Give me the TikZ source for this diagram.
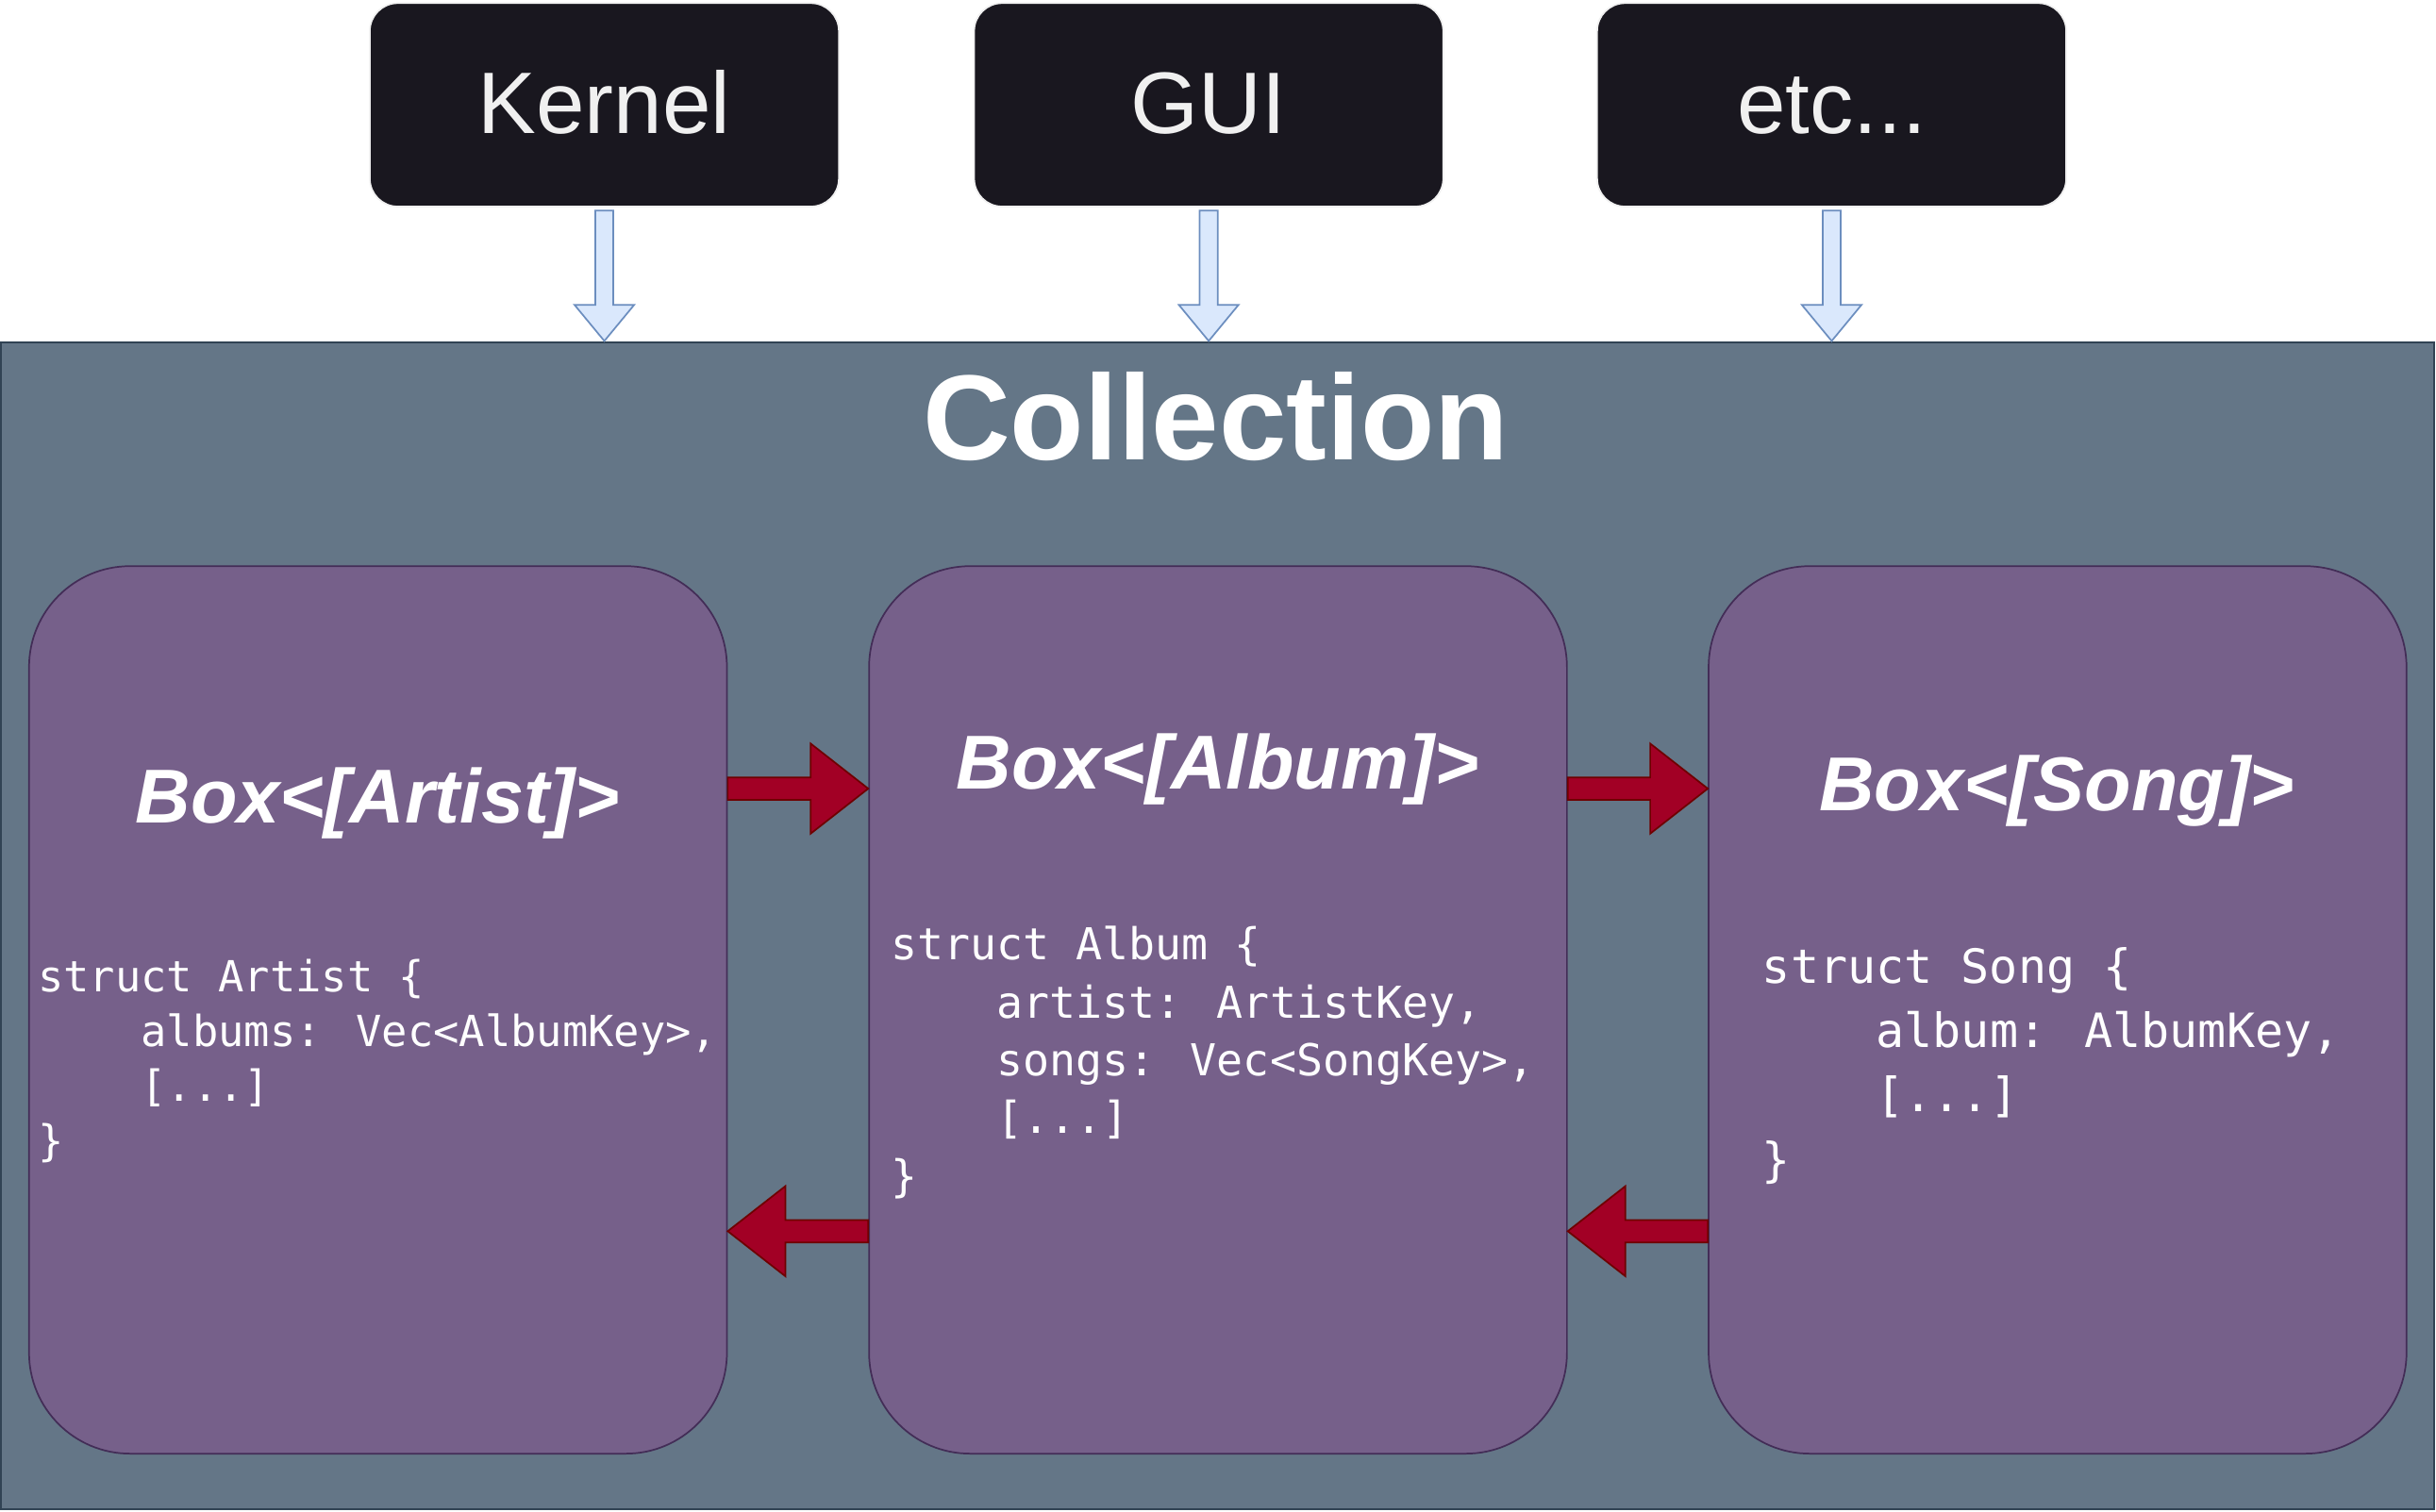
\documentclass[tikz,border=0pt]{standalone}
\usepackage{fontspec}
\setmainfont{Liberation Sans}
\newfontfamily\codefont{DejaVu Sans Mono}
\usetikzlibrary{calc}

\definecolor{topfill}{HTML}{19171F}
\definecolor{topline}{HTML}{F0F0F0}
\definecolor{collfill}{HTML}{647687}
\definecolor{collline}{HTML}{314354}
\definecolor{boxfill}{HTML}{76608A}
\definecolor{boxline}{HTML}{432D57}
\definecolor{redfill}{HTML}{A20025}
\definecolor{redline}{HTML}{6F0000}
\definecolor{bluefill}{HTML}{DAE8FC}
\definecolor{blueline}{HTML}{6C8EBF}

\newcommand{\codeindent}{\phantom{xxxx}}

\tikzset{
    blockarrow/.style n args={3}{
        to path={let \p1=(\tikztostart), \p2=(\tikztotarget),
            \n1={atan2(\y2-\y1,\x2-\x1)}, \n2={veclen(\x2-\x1,\y2-\y1)} in
            {[shift={(\p1)}, rotate=\n1]
            (0pt,#1) -- (\n2-#3,#1) -- (\n2-#3,#2) -- (\n2,0pt)
            -- (\n2-#3,-#2) -- (\n2-#3,-#1) -- (0pt,-#1) -- cycle}}},
    topbox/.style={draw=topline, line width=0.6pt, fill=topfill, text=topline,
        rounded corners=0.36cm, minimum width=6.04cm, minimum height=2.62cm,
        text height=22pt, text depth=1pt, font=\fontsize{32}{38}\selectfont},
    collbox/.style={draw=collline, line width=0.9pt, fill=collfill,
        minimum width=31.34cm, minimum height=15.03cm},
    colltitle/.style={anchor=base, text=white, inner sep=0,
        font=\bfseries\fontsize{44.4}{53}\selectfont},
    structbox/.style={draw=boxline, line width=0.6pt, fill=boxfill,
        rounded corners=1.3cm, minimum width=8.986cm, minimum height=11.43cm},
    boxtitle/.style={anchor=base, text=white, inner sep=0,
        font=\bfseries\itshape\fontsize{28}{33}\selectfont},
    code/.style={anchor=base west, text=white, inner sep=0, align=left},
    feed/.style={blockarrow={3.3pt}{10.9pt}{13.2pt}, draw=blueline, fill=bluefill, line width=0.6pt},
    link/.style={blockarrow={4.1pt}{16.5pt}{21.1pt}, draw=redline, fill=redfill, line width=0.6pt},
}

\begin{document}
\begin{tikzpicture}[x=0.02cm,y=-0.02cm]
    \useasboundingbox (0,0) rectangle (1568,973);

    \node[topbox] (kernel) at (389,67.5) {Kernel};
    \node[topbox] (gui) at (778,67.5) {GUI};
    \node[topbox] (etc) at (1179,67.5) {etc...};

    \node[collbox] (coll) at (783.5,596) {};
    \node[colltitle] (colltitle) at (782.5,296) {Collection};

    \node[structbox] (artist) at (243.3,650.2) {};
    \node[structbox] (album) at (784,650.2) {};
    \node[structbox] (song) at (1324.4,650.2) {};

    \node[boxtitle] (artisttitle) at (243,529.8) {Box<[Artist]>};
    \node[boxtitle] (albumtitle) at (783.8,508.2) {Box<[Album]>};
    \node[boxtitle] (songtitle) at (1324,521.7) {Box<[Song]>};

    \node[code, font=\codefont\fontsize{15.7}{20.1}\selectfont] (artistcode) at (24,744.2)
        {struct Artist \{\\\codeindent albums: Vec<AlbumKey>,\\\codeindent [...]\\\}};
    \node[code, font=\codefont\fontsize{16.1}{21.2}\selectfont] (albumcode) at (573,767)
        {struct Album \{\\\codeindent artist: ArtistKey,\\\codeindent songs: Vec<SongKey>,\\\codeindent [...]\\\}};
    \node[code, font=\codefont\fontsize{17.3}{23.6}\selectfont] (songcode) at (1134,757.3)
        {struct Song \{\\\codeindent album: AlbumKey,\\\codeindent [...]\\\}};

    \draw[feed] ([yshift=-0.04cm]kernel.south) to (kernel.south |- coll.north);
    \draw[feed] ([yshift=-0.04cm]gui.south) to (gui.south |- coll.north);
    \draw[feed] ([yshift=-0.04cm]etc.south) to (etc.south |- coll.north);

    \draw[link] ([yshift=2.85cm]artist.east) to ([yshift=2.85cm]album.west);
    \draw[link] ([yshift=2.85cm]album.east) to ([yshift=2.85cm]song.west);
    \draw[link] ([yshift=-2.85cm]album.west) to ([yshift=-2.85cm]artist.east);
    \draw[link] ([yshift=-2.85cm]song.west) to ([yshift=-2.85cm]album.east);
\end{tikzpicture}
\end{document}
